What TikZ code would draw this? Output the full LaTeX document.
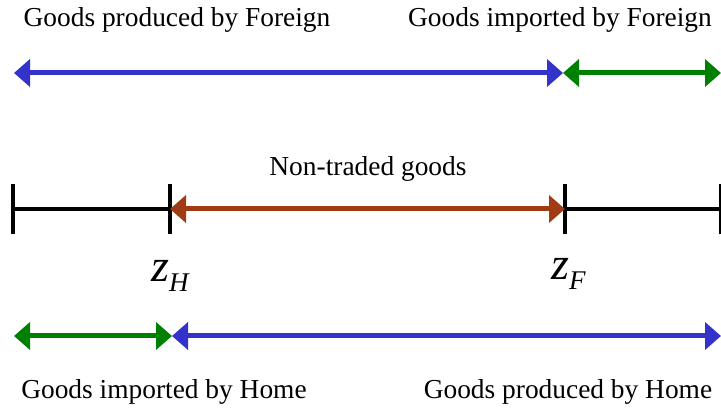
\documentclass[tikz,border=0pt]{standalone}
\usepackage{fontspec}
\setmainfont{Liberation Serif}
\usetikzlibrary{arrows.meta}
\definecolor{myblue}{RGB}{51,51,204}
\definecolor{mygreen}{RGB}{0,128,0}
\definecolor{mybrown}{RGB}{160,60,20}
\begin{document}
\begin{tikzpicture}[x=1pt,y=-1pt,
  lbl/.style={font=\fontsize{27.4}{30}\selectfont, anchor=base, inner sep=0pt},
  zlbl/.style={font=\fontsize{46}{48}\selectfont, anchor=base west, inner sep=0pt},
  rng/.style={line width=5pt, {Triangle[length=16pt,width=27pt]}-{Triangle[length=16pt,width=27pt]}},
  axis/.style={line width=4pt, black},
  tick/.style={line width=4pt, black}]
\useasboundingbox (0,0) rectangle (721,414);
% top
\coordinate (t1) at (14,73);
\coordinate (t2) at (563,73);
\coordinate (t3) at (721,73);
\draw[rng, myblue] (t1) -- (t2);
\draw[rng, mygreen] (t2) -- (t3);
\node[lbl] (pf) at (177,27) {Goods produced by Foreign};
\node[lbl] (if) at (560,27) {Goods imported by Foreign};
% middle
\coordinate (m0) at (13,209);
\coordinate (mH) at (170,209);
\coordinate (mF) at (565,209);
\coordinate (m1) at (721,209);
\draw[axis] (m0) -- (mH);
\draw[axis] (mF) -- (m1);
\foreach \p in {m0,mH,mF,m1}{
  \draw[tick] ([yshift=-25pt]\p) -- ([yshift=25pt]\p);
}
\draw[rng, mybrown] (mH) -- (mF);
\node[lbl] (nt) at (368,176) {Non-traded goods};
\node[zlbl] (zH) at (151,282) {\textit{z}\raisebox{-10pt}{\fontsize{27}{30}\selectfont\textit{H}}};
\node[zlbl] (zF) at (551,280) {\textit{z}\raisebox{-10pt}{\fontsize{27}{30}\selectfont\textit{F}}};
% bottom
\coordinate (b1) at (14,336);
\coordinate (b2) at (172,336);
\coordinate (b3) at (721,336);
\draw[rng, mygreen] (b1) -- (b2);
\draw[rng, myblue] (b2) -- (b3);
\node[lbl] (ih) at (164,399) {Goods imported by Home};
\node[lbl] (ph) at (568,399) {Goods produced by Home};
\end{tikzpicture}
\end{document}
